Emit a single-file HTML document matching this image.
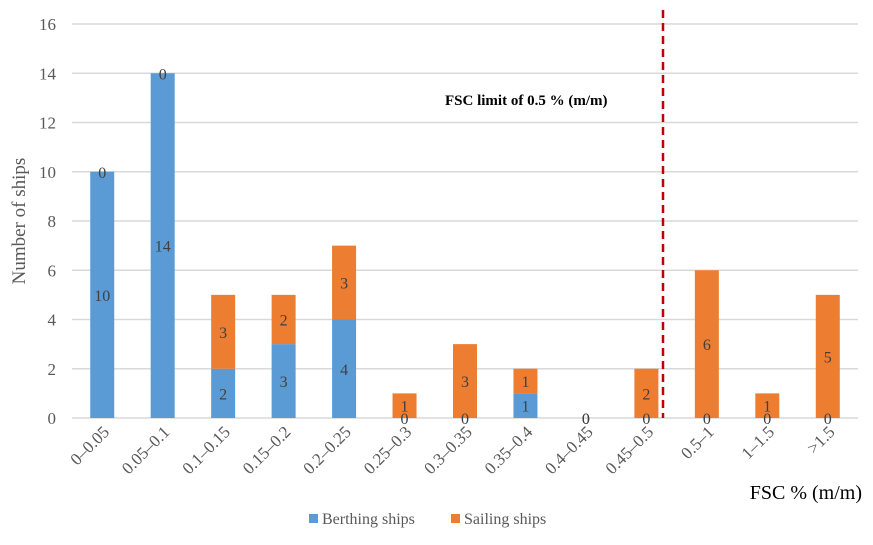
<!DOCTYPE html>
<html><head><meta charset="utf-8"><style>
body{margin:0;background:#fff;}
svg text{font-family:"Liberation Serif",serif;}
</style></head><body>
<svg id="chart" width="873" height="540" xmlns="http://www.w3.org/2000/svg"></svg>
<script>
const categories=["0\u20130.05","0.05\u20130.1","0.1\u20130.15","0.15\u20130.2","0.2\u20130.25","0.25\u20130.3","0.3\u20130.35","0.35\u20130.4","0.4\u20130.45","0.45\u20130.5","0.5\u20131","1\u20131.5",">1.5"];
const berthing=[10,14,2,3,4,0,0,1,0,0,0,0,0];
const sailing=[0,0,3,2,3,1,3,1,0,2,6,1,5];
const yTicks=[0,2,4,6,8,10,12,14,16];
const svg=document.getElementById('chart');
const NS='http://www.w3.org/2000/svg';
const X0=72,X1=858,Y0=418,Y1=24,YMAX=16;
const step=(X1-X0)/categories.length,BW=24;
const xc=i=>X0+step*(i+0.5);
const y=v=>Y0-(Y0-Y1)*v/YMAX;
function mk(t,a,txt){const e=document.createElementNS(NS,t);for(const k in a)e.setAttribute(k,a[k]);if(txt!==undefined)e.textContent=txt;svg.appendChild(e);return e;}
yTicks.forEach(v=>{
 const g=mk('line',{x1:X0,x2:X1,y1:y(v),y2:y(v),stroke:'#d9d9d9','stroke-width':1.5});
 
 
 const t=mk('text',{x:56,y:y(v)+6,'text-anchor':'end','font-size':17,fill:'#595959'},v);
 
 
});
categories.forEach((c,i)=>{
 const b=berthing[i],s=sailing[i],cx=xc(i);
 if(b>0){const r=mk('rect',{x:cx-BW/2,y:y(b),width:BW,height:y(0)-y(b),fill:'#5b9bd5'});
  
  }
 if(s>0){const r=mk('rect',{x:cx-BW/2,y:y(b+s),width:BW,height:y(b)-y(b+s),fill:'#ed7d31'});
  
  }
 const lb=mk('text',{x:cx,y:y(b/2)+6,'text-anchor':'middle','font-size':16,fill:'#404040'},b);
 
 
 const ls=mk('text',{x:cx,y:y(b+s/2)+6,'text-anchor':'middle','font-size':16,fill:'#404040'},s);
 
 
 const xl=mk('text',{x:cx+8,y:433,'text-anchor':'end','font-size':17,fill:'#595959',transform:`rotate(-45 ${cx+8} 433)`},c);
 
 
});
const dl=mk('line',{x1:663,x2:663,y1:10,y2:418,stroke:'#c00000','stroke-width':2.5,'stroke-dasharray':'8,5'});


const fl=mk('text',{x:445,y:105,'font-size':15,'font-weight':'bold',fill:'#000'},'FSC limit of 0.5 % (m/m)');


const yt=mk('text',{x:0,y:0,'text-anchor':'middle','font-size':19,fill:'#595959',transform:'translate(25 221) rotate(-90)'},'Number of ships');


const xt=mk('text',{x:862,y:499,'text-anchor':'end','font-size':20,fill:'#000'},'FSC % (m/m)');


const l1=mk('rect',{x:309,y:514,width:9,height:9,fill:'#5b9bd5'});


const l1t=mk('text',{x:322,y:524,'font-size':16,fill:'#595959'},'Berthing ships');


const l2=mk('rect',{x:451,y:514,width:9,height:9,fill:'#ed7d31'});


const l2t=mk('text',{x:464,y:524,'font-size':16,fill:'#595959'},'Sailing ships');


</script>
</body></html>
